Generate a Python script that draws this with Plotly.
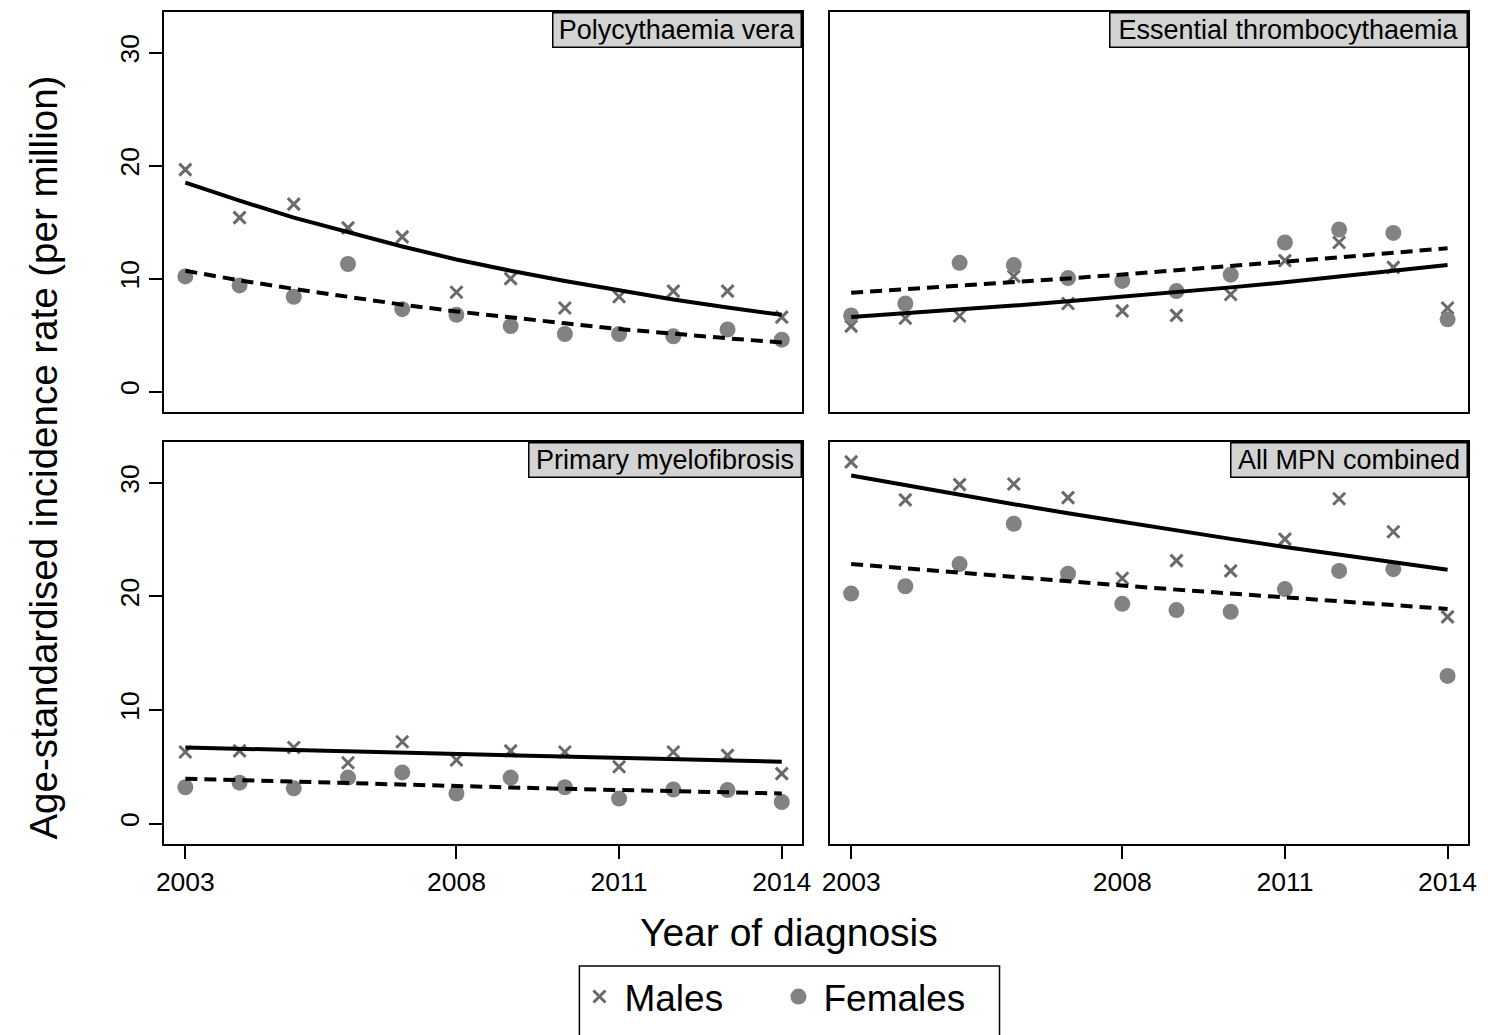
import plotly.graph_objects as go

years = list(range(2003, 2015))
panel_titles = ["Polycythaemia vera", "Essential thrombocythaemia",
                "Primary myelofibrosis", "All MPN combined"]
x_tick_vals = [2003, 2008, 2011, 2014]
y_tick_vals = [0, 10, 20, 30]

# Polycythaemia vera
pv_males = [19.65, 15.4, 16.6, 14.5, 13.7, 8.8, 10.0, 7.4, 8.4, 8.9, 8.9, 6.6]
pv_females = [10.2, 9.4, 8.4, 11.3, 7.3, 6.8, 5.8, 5.1, 5.1, 4.9, 5.5, 4.6]
pv_males_fit = [18.5, 16.9, 15.4, 14.1, 12.85, 11.7, 10.7, 9.8, 8.95, 8.15, 7.45, 6.8]
pv_females_fit = [10.7, 9.85, 9.1, 8.4, 7.7, 7.1, 6.55, 6.05, 5.55, 5.1, 4.72, 4.35]

# Essential thrombocythaemia
et_males = [5.8, 6.5, 6.7, 10.2, 7.8, 7.15, 6.75, 8.6, 11.6, 13.2, 11.0, 7.4]
et_females = [6.75, 7.8, 11.4, 11.2, 10.05, 9.8, 8.9, 10.35, 13.2, 14.35, 14.05, 6.4]
et_males_fit = [6.6, 6.92, 7.26, 7.62, 8.0, 8.39, 8.8, 9.23, 9.68, 10.16, 10.66, 11.2]
et_females_fit = [8.75, 9.05, 9.37, 9.69, 10.02, 10.37, 10.73, 11.1, 11.48, 11.88, 12.29, 12.7]

# Primary myelofibrosis
pm_males = [6.3, 6.4, 6.7, 5.35, 7.2, 5.6, 6.4, 6.3, 5.0, 6.3, 6.0, 4.4]
pm_females = [3.2, 3.6, 3.1, 4.05, 4.5, 2.65, 4.05, 3.2, 2.2, 3.0, 2.95, 1.9]
pm_males_fit = [6.7, 6.58, 6.45, 6.33, 6.22, 6.1, 5.99, 5.88, 5.77, 5.66, 5.56, 5.45]
pm_females_fit = [3.95, 3.81, 3.67, 3.54, 3.42, 3.3, 3.18, 3.06, 2.95, 2.85, 2.75, 2.65]

# All MPN combined
all_males = [31.85, 28.5, 29.85, 29.9, 28.7, 21.6, 23.15, 22.25, 25.05, 28.6, 25.7, 18.2]
all_females = [20.25, 20.9, 22.85, 26.4, 22.0, 19.35, 18.8, 18.65, 20.65, 22.25, 22.4, 13.0]
all_males_fit = [30.65, 29.78, 28.94, 28.12, 27.33, 26.55, 25.8, 25.07, 24.36, 23.67, 23.0, 22.35]
all_females_fit = [22.85, 22.46, 22.08, 21.7, 21.33, 20.96, 20.6, 20.25, 19.9, 19.56, 19.23, 18.9]

panels = [
    (pv_males, pv_females, pv_males_fit, pv_females_fit),
    (et_males, et_females, et_males_fit, et_females_fit),
    (pm_males, pm_females, pm_males_fit, pm_females_fit),
    (all_males, all_females, all_males_fit, all_females_fit),
]

FONT = "Liberation Sans, Arial, sans-serif"
W, H = 1488, 1035

fig = go.Figure()
for i, (m, f, mfit, ffit) in enumerate(panels):
    xa = "x" if i == 0 else f"x{i+1}"
    ya = "y" if i == 0 else f"y{i+1}"
    fig.add_trace(go.Scatter(
        x=years, y=m, mode="markers", name="Males", showlegend=(i == 0),
        legendrank=1,
        marker=dict(symbol="x-thin", size=12, color="#6a6a6a",
                    line=dict(width=3, color="#6a6a6a")),
        xaxis=xa, yaxis=ya))
    fig.add_trace(go.Scatter(
        x=years, y=f, mode="markers", name="Females", showlegend=(i == 0),
        legendrank=2,
        marker=dict(symbol="circle", size=16, color="#828282"),
        xaxis=xa, yaxis=ya))
    fig.add_trace(go.Scatter(
        x=years, y=mfit, mode="lines", showlegend=False,
        line=dict(color="black", width=4),
        xaxis=xa, yaxis=ya))
    fig.add_trace(go.Scatter(
        x=years, y=ffit, mode="lines", showlegend=False,
        line=dict(color="black", width=4, dash="12px,7px"),
        xaxis=xa, yaxis=ya))

# domains in paper fractions, from pixel layout
xd_left = [158 / W, 803 / W]
xd_right = [831.5 / W, 1476.5 / W]
yd_top = [1 - 412 / H, 1 - 12 / H]
yd_bot = [1 - 844 / H, 1 - 442 / H]

xrange_ = [2002.61, 2014.37]
yrange_ = [-1.8, 33.6]

base_axis = dict(showline=True, mirror=True, linecolor="black", linewidth=2,
                 showgrid=False, zeroline=False,
                 tickfont=dict(family=FONT, size=26.5, color="black"))

layout = dict(
    width=W, height=H, margin=dict(l=0, r=0, t=0, b=0),
    plot_bgcolor="white", paper_bgcolor="white",
    font=dict(family=FONT, color="black"),
)

specs = [
    ("xaxis", "yaxis", xd_left, yd_top, False, True),
    ("xaxis2", "yaxis2", xd_right, yd_top, False, False),
    ("xaxis3", "yaxis3", xd_left, yd_bot, True, True),
    ("xaxis4", "yaxis4", xd_right, yd_bot, True, False),
]
for k, (xk, yk, xd, yd, xticks, yticks) in enumerate(specs):
    xanchor = "y" if k == 0 else f"y{k+1}"
    yanchor = "x" if k == 0 else f"x{k+1}"
    layout[xk] = dict(base_axis, domain=xd, range=xrange_, anchor=xanchor,
                      tickvals=x_tick_vals, showticklabels=xticks,
                      ticks="outside" if xticks else "", ticklen=13,
                      tickwidth=2, tickcolor="black")
    layout[yk] = dict(base_axis, domain=yd, range=yrange_, anchor=yanchor,
                      tickvals=y_tick_vals, showticklabels=yticks,
                      ticks="outside" if yticks else "", ticklen=13,
                      tickwidth=2, tickcolor="black", tickangle=-90)

fig.update_layout(**layout)

strip_box_widths = [250, 359, 274, 238]
annotations = []
for k, title in enumerate(panel_titles):
    xr = "x domain" if k == 0 else f"x{k+1} domain"
    yr = "y domain" if k == 0 else f"y{k+1} domain"
    annotations.append(dict(
        text=title, xref=xr, yref=yr, x=1, y=1, xanchor="right",
        yanchor="top", showarrow=False, bgcolor="#d3d3d3",
        bordercolor="black", borderwidth=1.5, borderpad=2,
        width=strip_box_widths[k] - 7, height=29, align="center",
        font=dict(family=FONT, size=27, color="black")))

annotations.append(dict(
    text="Year of diagnosis", xref="paper", yref="paper",
    x=790 / W, y=1 - 932 / H, xanchor="center", yanchor="middle",
    showarrow=False, font=dict(family=FONT, size=39, color="black")))
annotations.append(dict(
    text="Age-standardised incidence rate (per million)", xref="paper",
    yref="paper", x=35 / W, y=1 - 458 / H, xanchor="center",
    yanchor="middle", textangle=-90, showarrow=False,
    font=dict(family=FONT, size=38.5, color="black")))

# legend frame (open at the bottom edge of the page, as in the reference)
legend_frame = dict(type="rect", xref="paper", yref="paper",
                    x0=578 / W, x1=1003 / W, y0=-0.05, y1=1 - 966 / H,
                    line=dict(color="black", width=1.5),
                    fillcolor="rgba(0,0,0,0)", layer="above")

fig.update_layout(
    annotations=annotations,
    shapes=[legend_frame],
    legend=dict(orientation="h", x=573 / W, xanchor="left",
                y=1 - 966 / H, yanchor="top",
                borderwidth=0, bgcolor="rgba(0,0,0,0)",
                font=dict(family=FONT, size=37, color="black"),
                itemwidth=40,
                entrywidth=144, entrywidthmode="pixels",
                itemsizing="trace", traceorder="normal"),
)

fig.write_html("out.html")
